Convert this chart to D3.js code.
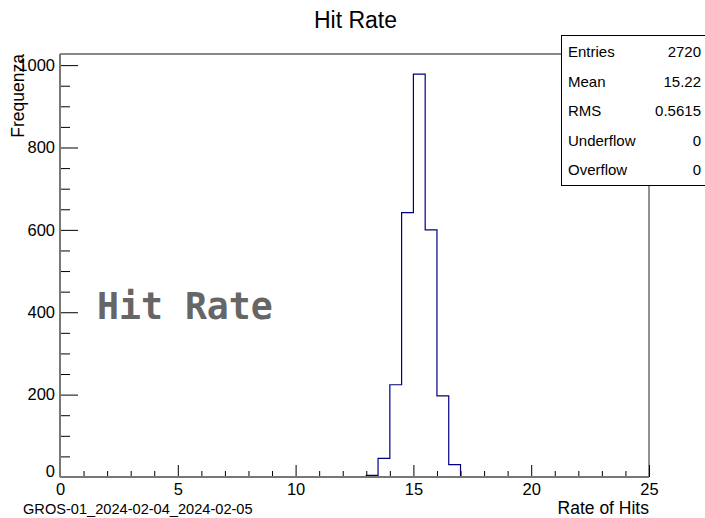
<!DOCTYPE html>
<html>
<head>
<meta charset="utf-8">
<script src="https://cdn.jsdelivr.net/npm/d3@7"></script>
<style>
  body { margin: 0; background: #fff; }
  svg { display: block; font-family: "Liberation Sans", Arial, sans-serif; }
</style>
</head>
<body>
<svg id="hist" width="705" height="518"></svg>
<script>
// DATA
const binLowEdges = [13, 13.5, 14, 14.5, 15, 15.5, 16, 16.5];
const binWidth = 0.5;
const binCounts = [4, 45, 224, 642, 978, 600, 197, 30];

const xMajorTicks = [0, 5, 10, 15, 20, 25];
const xMinorTicks = [1, 2, 3, 4, 6, 7, 8, 9, 11, 12, 13, 14, 16, 17, 18, 19, 21, 22, 23, 24];
const yMajorTicks = [0, 200, 400, 600, 800, 1000];
const yMinorTicks = [50, 100, 150, 250, 300, 350, 450, 500, 550, 650, 700, 750, 850, 900, 950];

const statLabels = ["Entries", "Mean", "RMS", "Underflow", "Overflow"];
const statValues = ["2720", "15.22", "0.5615", "0", "0"];

const width = 705, height = 518;
const margin = { top: 54, right: 56, bottom: 41, left: 60 };

const svg = d3.select("svg#hist");

// SCALES
const xScale = d3.scaleLinear()
    .domain([0, 25])
    .range([margin.left, width - margin.right]);

const yScale = d3.scaleLinear()
    .domain([0, 1027])
    .range([height - margin.bottom, margin.top]);

// FRAME
svg.append("line")
    .attr("x1", xScale(0)).attr("x2", xScale(25))
    .attr("y1", yScale(1027)).attr("y2", yScale(1027))
    .attr("stroke", "#888").attr("stroke-width", 2);
svg.append("line")
    .attr("x1", xScale(25)).attr("x2", xScale(25))
    .attr("y1", yScale(1027)).attr("y2", yScale(0))
    .attr("stroke", "#222").attr("stroke-width", 1);

// HISTOGRAM
const pts = [[xScale(binLowEdges[0]), yScale(0)]];
binLowEdges.forEach((lo, i) => {
    pts.push([xScale(lo), yScale(binCounts[i])]);
    pts.push([xScale(lo + binWidth), yScale(binCounts[i])]);
});
pts.push([xScale(binLowEdges[binLowEdges.length - 1] + binWidth), yScale(0)]);

svg.append("path")
    .attr("d", d3.line()(pts))
    .attr("fill", "none")
    .attr("stroke", "#000080")
    .attr("stroke-width", 1.2);

// AXIS
const xAxis = g => g.attr("transform", `translate(0, ${yScale(0)})`)
    .call(d3.axisBottom(xScale).tickValues(xMajorTicks).tickSize(-12).tickPadding(6).tickFormat(d3.format("d")))
    .call(g => g.select(".domain").remove());
const xMinor = g => g.attr("transform", `translate(0, ${yScale(0)})`)
    .call(d3.axisBottom(xScale).tickValues(xMinorTicks).tickSize(-6).tickFormat(""))
    .call(g => g.select(".domain").remove());

const yAxis = g => g.attr("transform", `translate(${xScale(0)},0)`)
    .call(d3.axisLeft(yScale).tickValues(yMajorTicks).tickSize(-18).tickPadding(5).tickFormat(d3.format("d")))
    .call(g => g.select(".domain").remove());
const yMinor = g => g.attr("transform", `translate(${xScale(0)},0)`)
    .call(d3.axisLeft(yScale).tickValues(yMinorTicks).tickSize(-10).tickFormat(""))
    .call(g => g.select(".domain").remove());

[xAxis, xMinor, yAxis, yMinor].forEach(a => {
    const g = svg.append("g").call(a);
    g.selectAll("text").attr("font-size", 16.5).attr("font-family", "Liberation Sans, Arial, sans-serif").attr("fill", "#000");
    g.selectAll("line").attr("stroke", "#000");
});
svg.selectAll("g text").filter(d => d === 0).filter(function () {
    return this.getAttribute("x") !== null && +this.getAttribute("x") < 0;
}).attr("dy", "-0.05em");

svg.append("line")
    .attr("x1", xScale(0)).attr("x2", xScale(25))
    .attr("y1", yScale(0)).attr("y2", yScale(0))
    .attr("stroke", "#777").attr("stroke-width", 2);
svg.append("line")
    .attr("x1", xScale(0)).attr("x2", xScale(0))
    .attr("y1", yScale(0)).attr("y2", yScale(1027))
    .attr("stroke", "#777").attr("stroke-width", 2);

// TITLES
svg.append("text")
    .attr("x", 355.5).attr("y", 28)
    .attr("text-anchor", "middle").attr("font-size", 23)
    .text("Hit Rate");

svg.append("text")
    .attr("transform", `translate(24, ${yScale(1027)}) rotate(-90)`)
    .attr("text-anchor", "end").attr("font-size", 17.5)
    .text("Frequenza");

svg.append("text")
    .attr("x", xScale(25)).attr("y", 514)
    .attr("text-anchor", "end").attr("font-size", 17.5)
    .text("Rate of Hits");

svg.append("text")
    .attr("x", 23).attr("y", 514)
    .attr("font-size", 14.6)
    .text("GROS-01_2024-02-04_2024-02-05");

// WATERMARK
svg.append("text")
    .attr("x", 97).attr("y", 319)
    .attr("font-family", "DejaVu Sans Mono, monospace")
    .attr("font-weight", "bold").attr("font-size", 36.5)
    .attr("fill", "#666")
    .text("Hit Rate");

// STATS BOX
const box = svg.append("g");
box.append("rect")
    .attr("x", 561.5).attr("y", 35.5)
    .attr("width", 150).attr("height", 150)
    .attr("fill", "#fff").attr("stroke", "#000");
box.selectAll("text.lab")
    .data(statLabels)
    .join("text")
    .attr("class", "lab")
    .attr("x", 568).attr("y", (d, i) => 57 + i * 29.5)
    .attr("font-size", 15)
    .text(d => d);
box.selectAll("text.val")
    .data(statValues)
    .join("text")
    .attr("class", "val")
    .attr("x", 701).attr("y", (d, i) => 57 + i * 29.5)
    .attr("text-anchor", "end").attr("font-size", 15)
    .text(d => d);
</script>
</body>
</html>
